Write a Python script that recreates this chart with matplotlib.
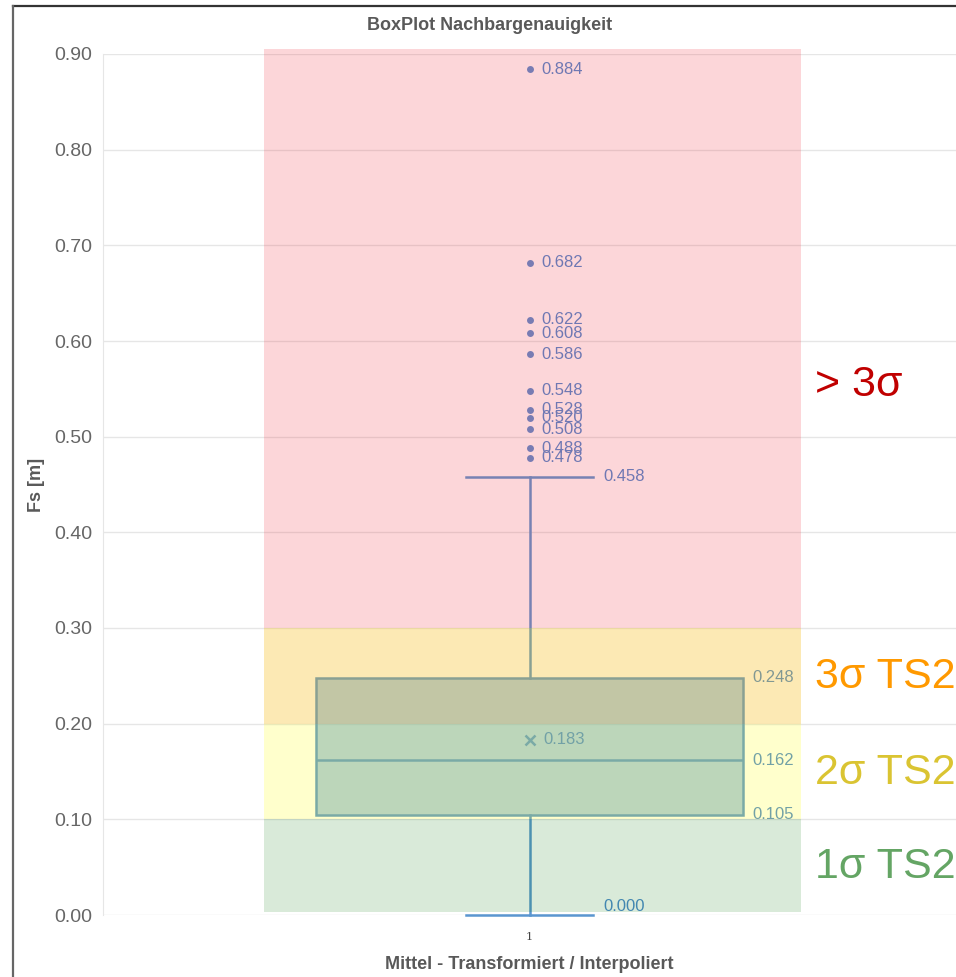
import matplotlib
matplotlib.use("Agg")
import matplotlib.pyplot as plt
from matplotlib.lines import Line2D

plt.rcParams['font.family'] = ['Liberation Sans', 'DejaVu Sans']

# box statistics
q1 = [0.105]
median = [0.162]
q3 = [0.248]
mean = [0.183]
whis_low = [0.000]
whis_high = [0.458]
fliers = [0.884, 0.682, 0.622, 0.608, 0.586, 0.548, 0.528, 0.520, 0.508, 0.488, 0.478]

# tolerance bands
band_lo = [0.003, 0.10, 0.20, 0.30]
band_hi = [0.10, 0.20, 0.30, 0.905]
band_colors = [(0/255, 120/255, 0/255, 0.15), (1.0, 1.0, 0.0, 0.2),
               (248/255, 185/255, 8/255, 0.3), (240/255, 50/255, 65/255, 0.2)]
band_names = ["1σ TS2", "2σ TS2", "3σ TS2", "> 3σ"]
band_text_y = [0.050, 0.148, 0.249, 0.554]
band_text_col = ["#64a564", "#dac432", "#ff9900", "#c00000"]

blue = "#5a96d0"

fig = plt.figure(figsize=(9.56, 9.77), dpi=100)
ax = fig.add_axes([103/956, 1 - 915/977, 1 - 103/956, (915 - 54)/977])

stats = [dict(med=median[0], q1=q1[0], q3=q3[0], whislo=whis_low[0],
              whishi=whis_high[0], fliers=fliers, mean=mean[0], label="1")]
bp = ax.bxp(stats, positions=[1], widths=0.5, capwidths=0.148,
            patch_artist=True, showmeans=True,
            boxprops=dict(facecolor=(91/255, 155/255, 213/255, 0.5), edgecolor=blue, linewidth=1.8),
            medianprops=dict(color=blue, linewidth=1.8),
            whiskerprops=dict(color=blue, linewidth=1.8),
            capprops=dict(color=blue, linewidth=1.8),
            flierprops=dict(marker='o', markersize=5, markerfacecolor="#5b8fd0",
                            markeredgecolor="none"),
            meanprops=dict(marker='x', markersize=7, markeredgecolor=blue,
                           markeredgewidth=1.8))
for group in bp.values():
    for art in group:
        art.set_zorder(2)
        art.set_clip_on(False)

# bands drawn over the box
for lo, hi, col in zip(band_lo, band_hi, band_colors):
    ax.fill_between([0.689, 1.318], lo, hi, color=col, lw=0, zorder=3, clip_on=False)

for name, ty, tc in zip(band_names, band_text_y, band_text_col):
    ax.text(1.335, ty, name, color=tc, fontsize=31, va='center', ha='left', zorder=5)

# value labels
lab_kw = dict(textcoords='offset points', va='center', ha='left', fontsize=12,
              color="#4f8ad0", zorder=2.5)
for v in fliers:
    ax.annotate(f"{v:.3f}", (1, v), xytext=(8.5, 0), **lab_kw)
ax.annotate(f"{whis_high[0]:.3f}", (1.074, whis_high[0]), xytext=(8, 0), **lab_kw)
ax.annotate(f"{whis_low[0]:.3f}", (1.074, whis_low[0]), xytext=(8, 6), **lab_kw)
ax.annotate(f"{mean[0]:.3f}", (1, mean[0]), xytext=(10, 0), **lab_kw)
for v in [q3[0], median[0], q1[0]]:
    ax.annotate(f"{v:.3f}", (1.25, v), xytext=(7, 0), **lab_kw)

ax.set_xlim(0.5, 1.5)
ax.set_ylim(0, 0.9)
ax.set_yticks([i / 10 for i in range(10)])
ax.set_yticklabels([f"{i / 10:.2f}" for i in range(10)])
ax.tick_params(axis='y', length=0, labelsize=14, labelcolor="#666666", pad=8)
ax.tick_params(axis='x', length=0, labelsize=8, labelcolor="#444444", pad=12)
for lab in ax.get_xticklabels():
    lab.set_family('DejaVu Serif')
ax.grid(axis='y', color="#e6e6e6", linewidth=1, zorder=0)
ax.set_axisbelow(True)
for s in ['top', 'right', 'bottom']:
    ax.spines[s].set_visible(False)
ax.spines['left'].set_color("#e6e6e6")

ax.set_xlabel("Mittel - Transformiert / Interpoliert", fontsize=13, fontweight='bold',
              color="#595959", labelpad=10)
ax.set_ylabel("Fs [m]", fontsize=13, fontweight='bold', color="#595959", labelpad=6)
fig.text(490/956, 1 - 25/977, "BoxPlot Nachbargenauigkeit", ha='center', va='center',
         fontsize=13, fontweight='bold', color="#595959")

# screenshot frame
fig.add_artist(Line2D([13/956, 1], [1 - 6/977, 1 - 6/977], color="#333333", lw=1.6))
fig.add_artist(Line2D([13/956, 13/956], [0, 1 - 6/977], color="#666666", lw=1.6))

fig.savefig("out.png", dpi=100)
